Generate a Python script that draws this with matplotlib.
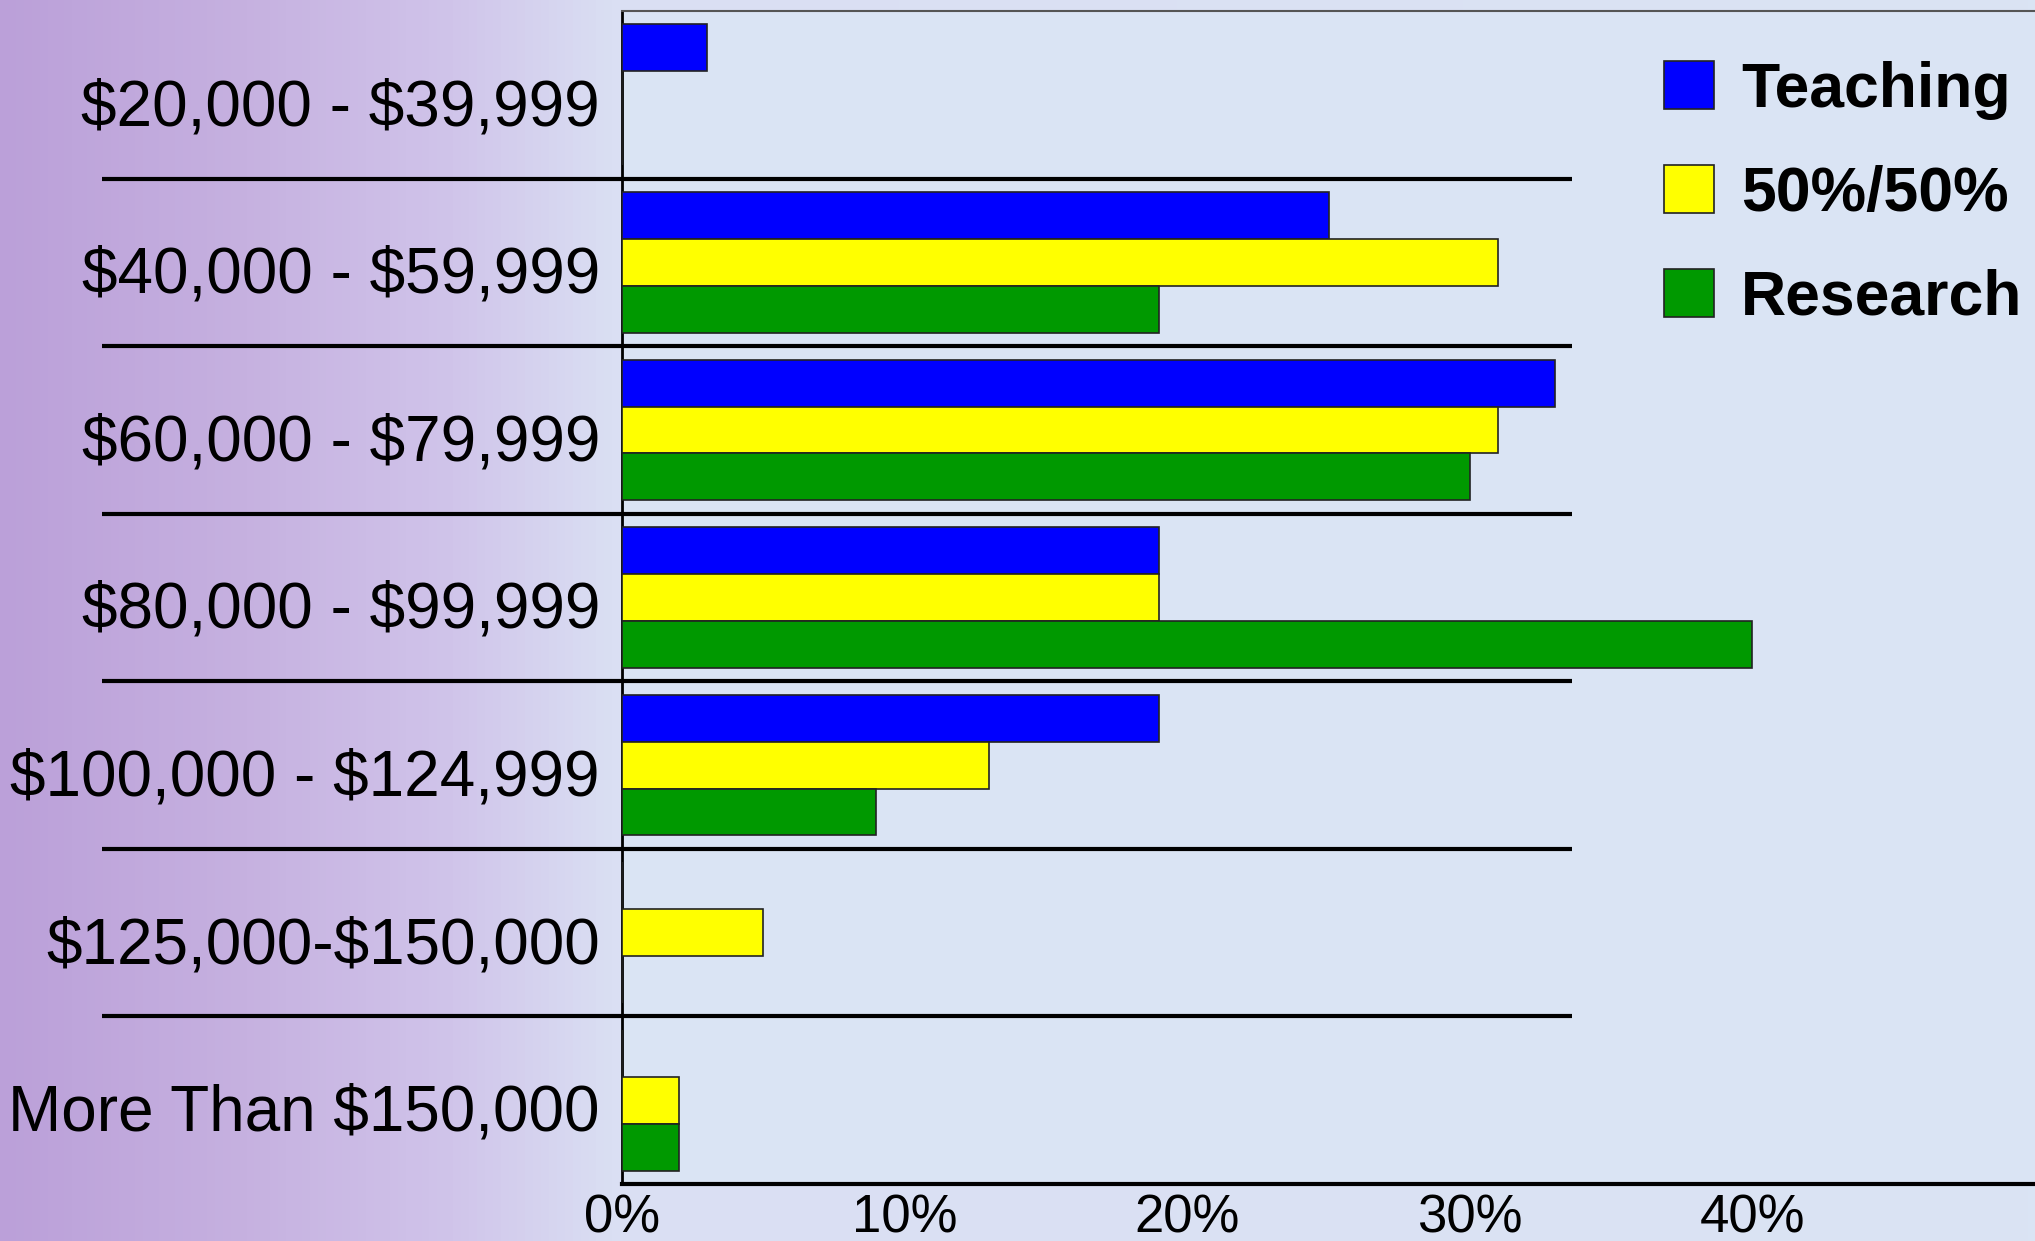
import numpy as np
import matplotlib
import matplotlib.pyplot as plt
from matplotlib.colors import LinearSegmentedColormap
from matplotlib.transforms import blended_transform_factory, ScaledTranslation

# ============================================================
# Data (percent of respondents in each salary range)
# ============================================================
categories = ['$20,000 - $39,999', '$40,000 - $59,999', '$60,000 - $79,999',
              '$80,000 - $99,999', '$100,000 - $124,999', '$125,000-$150,000',
              'More Than $150,000']
teaching   = [3, 25, 33, 19, 19, 0, 0]
fifty      = [0, 31, 31, 19, 13, 5, 2]
research   = [0, 19, 30, 40, 9, 0, 2]
series     = ['Teaching', '50%/50%', 'Research']
colors     = ['#0000FF', '#FFFF00', '#009900']
xticks     = [0, 10, 20, 30, 40]

plt.rcParams['font.family'] = ['Liberation Sans', 'DejaVu Sans']
plt.rcParams['text.parse_math'] = False   # dollar signs are literal

fig = plt.figure(figsize=(20.35, 12.41), dpi=100)

# background gradient purple -> light blue
bg = fig.add_axes([0, 0, 1, 1], zorder=-10)
grad = np.linspace(0, 1, 512).reshape(1, -1)
cmap = LinearSegmentedColormap.from_list(
    'bg', [(0.0, '#BBA0D9'), (0.12, '#C6B1E0'), (0.22, '#D0C4EA'),
           (0.30, '#DADFF3'), (1.0, '#DAE4F4')])
bg.imshow(grad, aspect='auto', cmap=cmap, extent=[0, 1, 0, 1])
bg.axis('off')

ax = fig.add_axes([0.3057, 0.0459, 0.6943, 0.9452])
ax.set_facecolor('#DAE4F4')

y = np.arange(len(categories))
h = 0.28
for i, (name, vals, c) in enumerate(zip(series, [teaching, fifty, research], colors)):
    ax.barh(y + (i - 1) * h, vals, height=h, color=c, edgecolor='#222222',
            linewidth=1.2, label=name, zorder=3)

ax.set_xlim(0, 50)
ax.set_ylim(len(categories) - 0.5, -0.5)

# category separators, extending into the label area
trans = blended_transform_factory(ax.transAxes, ax.transData)
ax.hlines(y[:-1] + 0.5, -0.368, 0.672, transform=trans, color='black',
          linewidth=3, clip_on=False, zorder=4)

ax.set_yticks(y)
ax.set_yticklabels(categories, fontsize=46)
ax.tick_params(axis='y', length=0, pad=16)
shift = ScaledTranslation(0, -5 / 72, fig.dpi_scale_trans)
for lbl in ax.get_yticklabels():
    lbl.set_transform(lbl.get_transform() + shift)

ax.set_xticks(xticks)
ax.set_xticklabels([f'{t}%' for t in xticks], fontsize=38)
ax.tick_params(axis='x', length=0, pad=7)

ax.spines['right'].set_visible(False)
ax.spines['top'].set_color('#555555')
ax.spines['top'].set_linewidth(1.5)
ax.spines['left'].set_linewidth(2)
ax.spines['bottom'].set_linewidth(3)

leg = fig.legend(loc='upper left', bbox_to_anchor=(0.8177, 0.951),
                 frameon=False, prop={'weight': 'bold', 'size': 45},
                 handlelength=0.8, handleheight=0.8, handletextpad=0.43,
                 labelspacing=0.72, borderpad=0, borderaxespad=0)

plt.savefig('out.png', dpi=100)
